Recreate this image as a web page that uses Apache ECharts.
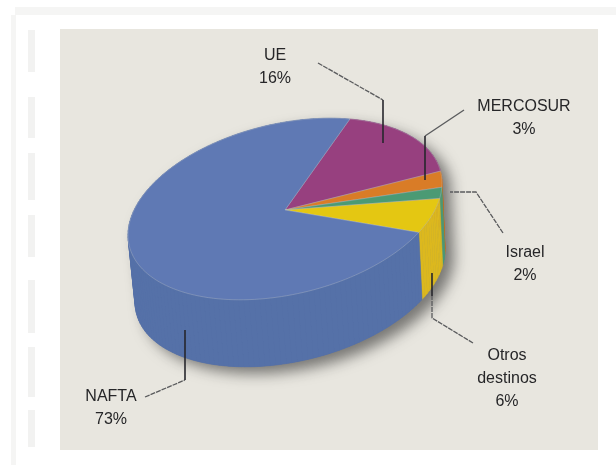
<!DOCTYPE html>
<html><head><meta charset="utf-8">
<style>html,body{margin:0;padding:0;background:#fff}#c{width:616px;height:465px;filter:blur(.5px)}</style>
<script src="https://cdn.jsdelivr.net/npm/echarts@6/dist/echarts.min.js"></script>
</head><body><div id="c"></div>
<script>
// Data, clockwise from the top of the pie
const categories = ['UE', 'MERCOSUR', 'Israel', 'Otros\ndestinos', 'NAFTA'];
const shares = [16, 3, 2, 6, 73];

// Styles
const topColors = ['#97407f', '#d97c27', '#4b9a74', '#e4c712', '#5f79b4'];
const wallColors = ['#8a3a74', '#c26d22', '#4c9876', '#dcb81e', '#5571a8'];

// Pie projection (tilted, rotated ellipse)
const startDeg = -65.6;
const topE = {cx: 285, cy: 209, a: 157, sk: -26, b: 87};
const botE = {cx: 290, cy: 276, a: 155, sk: -26, b: 87};
const apex = [285, 210];
function rim(e, deg) {
  const r = deg * Math.PI / 180, c = Math.cos(r), s = Math.sin(r);
  return [e.cx + e.a * c, e.cy + e.sk * c + e.b * s];
}
function arc(e, from, to) {
  const pts = [], n = Math.max(2, Math.ceil(Math.abs(to - from) / 2));
  for (let i = 0; i <= n; i++) pts.push(rim(e, from + (to - from) * i / n));
  return pts;
}
function hull(points) {
  const p = points.slice().sort((a, b) => a[0] - b[0] || a[1] - b[1]);
  const cross = (o, a, b) => (a[0] - o[0]) * (b[1] - o[1]) - (a[1] - o[1]) * (b[0] - o[0]);
  const half = list => {
    const h = [];
    list.forEach(q => {
      while (h.length > 1 && cross(h[h.length - 2], h[h.length - 1], q) <= 0) h.pop();
      h.push(q);
    });
    h.pop();
    return h;
  };
  return half(p).concat(half(p.slice().reverse()));
}
const total = shares.reduce((a, b) => a + b, 0);
function span(i) {
  let before = 0;
  for (let k = 0; k < i; k++) before += shares[k];
  return [startDeg + before / total * 360, startDeg + (before + shares[i]) / total * 360];
}
const rows = shares.map((v, i) => ({value: [i, v], name: categories[i]}));

// Annotation layout: each leader runs from the label end to the pie end
const leaderOuter = [
  [[318, 63], [383, 100]],
  [[464, 110], [425, 136]],
  [[503, 233], [476, 192], [450, 192]],
  [[473, 343], [432, 318], [432, 296]],
  [[145, 397], [185, 380]]
];
const leaderInner = [
  [[383, 100], [383, 143]],
  [[425, 136], [425, 180]],
  [],
  [[432, 296], [432, 273]],
  [[185, 380], [185, 330]]
];
const labelAt = [[275, 67], [524, 118], [525, 264], [507, 379], [111, 408]];
const leftDashes = [[30, 72], [97, 138], [153, 200], [215, 257], [280, 333], [347, 397], [410, 447]];

const graphic = [
  {type: 'rect', z: 0, shape: {x: 15, y: 7, width: 601, height: 8}, style: {fill: '#f5f5f4'}},
  {type: 'rect', z: 0, shape: {x: 11, y: 15, width: 5, height: 450}, style: {fill: '#f5f5f4'}},
  {type: 'rect', z: 0, shape: {x: 60, y: 29, width: 538, height: 421}, style: {fill: '#e8e6df'}}
];
leftDashes.forEach(d => graphic.push({type: 'rect', z: 0,
  shape: {x: 28, y: d[0], width: 7, height: d[1] - d[0]}, style: {fill: '#f2f2f1'}}));
leaderOuter.forEach((pts, i) => graphic.push({type: 'polyline', z: 10, shape: {points: pts},
  style: {fill: 'none', stroke: '#5a5b5d', lineWidth: 1.3, lineDash: i === 1 ? null : [5, 1]}}));
leaderInner.forEach(pts => { if (pts.length) graphic.push({type: 'polyline', z: 10, shape: {points: pts},
  style: {fill: 'none', stroke: '#26262c', lineWidth: 1.6}}); });
categories.forEach((name, i) => graphic.push({
  type: 'text', z: 11, x: labelAt[i][0], y: labelAt[i][1],
  style: {text: name + '\n' + shares[i] + '%', fill: '#262628', align: 'center', verticalAlign: 'middle',
    font: '16px "Liberation Sans", Arial, sans-serif', lineHeight: 23}
}));

const chart = echarts.init(document.getElementById('c'), null, {renderer: 'canvas'});
chart.setOption({
  animation: false,
  backgroundColor: '#ffffff',
  graphic: graphic,
  series: [
    { // soft drop shadow under the whole solid
      type: 'custom', coordinateSystem: 'none', silent: true, z: 2, data: [[0]],
      renderItem: () => ({type: 'polygon',
        shape: {points: hull(arc(botE, 0, 360).concat(arc(topE, 0, 360)))},
        style: {fill: '#5571a8', shadowBlur: 14, shadowColor: 'rgba(30,30,30,.55)', shadowOffsetX: 9, shadowOffsetY: 7}})
    },
    { // side walls, one thin quad per step so the silhouette stays straight
      type: 'custom', coordinateSystem: 'none', silent: true, z: 3, data: rows,
      renderItem: (p, api) => {
        const i = api.value(0), s = span(i);
        const up = arc(topE, s[0], s[1]), lo = arc(botE, s[0], s[1]);
        const children = [];
        for (let k = 0; k < up.length - 1; k++) {
          children.push({type: 'polygon',
            shape: {points: [up[k], up[k + 1], lo[k + 1], lo[k]]},
            style: {fill: wallColors[i], stroke: wallColors[i], lineWidth: 0.6}});
        }
        return {type: 'group', children: children};
      }
    },
    { // top faces
      type: 'custom', coordinateSystem: 'none', silent: true, z: 4, data: rows,
      renderItem: (p, api) => {
        const i = api.value(0), s = span(i);
        return {type: 'polygon',
          shape: {points: [apex].concat(arc(topE, s[0], s[1]))},
          style: {fill: topColors[i], stroke: 'rgba(190,195,200,.35)', lineWidth: 1}};
      }
    }
  ]
});
</script></body></html>
